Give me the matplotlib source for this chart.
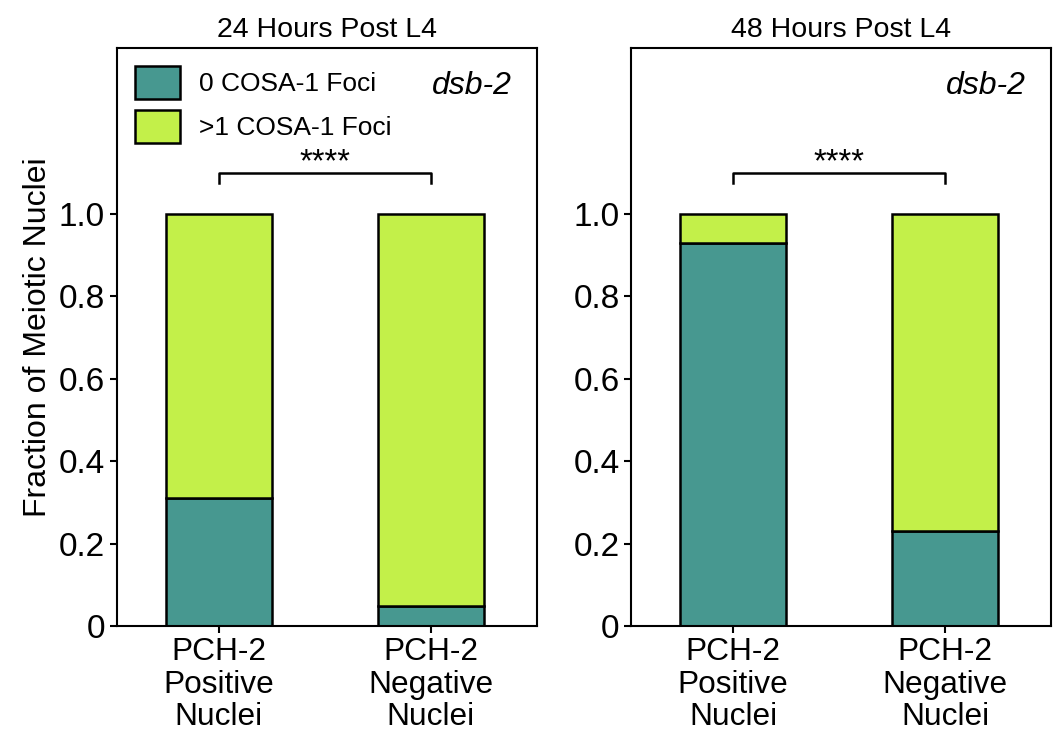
import matplotlib
matplotlib.use('Agg')
import matplotlib.pyplot as plt
import numpy as np

plt.rcParams['font.family'] = ['Liberation Sans', 'DejaVu Sans']

categories = ['PCH-2\nPositive\nNuclei', 'PCH-2\nNegative\nNuclei']
titles = ['24 Hours Post L4', '48 Hours Post L4']
zero_foci = [[0.31, 0.05], [0.93, 0.23]]
series_labels = ['0 COSA-1 Foci', '>1 COSA-1 Foci']
colors = ['#479890', '#c3f049']


def fmt(v, pos):
    return '0' if v == 0 else '%.1f' % v


fig, axes = plt.subplots(1, 2, figsize=(10.62, 7.35), dpi=100)
fig.subplots_adjust(left=0.11, right=0.99, top=0.935, bottom=0.148, wspace=0.225)

x = np.arange(len(categories))
for i, ax in enumerate(axes):
    low = np.array(zero_foci[i])
    high = 1 - low
    ax.bar(x, low, width=0.5, color=colors[0], edgecolor='black', linewidth=1.8,
           label=series_labels[0])
    ax.bar(x, high, bottom=low, width=0.5, color=colors[1], edgecolor='black',
           linewidth=1.8, label=series_labels[1])
    ax.set_xlim(-0.48, 1.5)
    ax.set_ylim(0, 1.403)
    ax.set_yticks([0, 0.2, 0.4, 0.6, 0.8, 1.0])
    ax.yaxis.set_major_formatter(plt.FuncFormatter(fmt))
    ax.set_xticks(x)
    ax.set_xticklabels(categories, fontsize=22.8, linespacing=1.1)
    ax.tick_params(axis='y', labelsize=24, width=1.5, length=5)
    ax.tick_params(axis='x', width=1.5, length=5, pad=3)
    for s in ax.spines.values():
        s.set_linewidth(1.5)
    ax.set_title(titles[i], fontsize=20.5, pad=8)
    ax.text(0.94, 0.96, 'dsb-2', transform=ax.transAxes, ha='right', va='top',
            fontsize=23, style='italic')
    # significance bracket
    ax.plot([0, 0, 1, 1], [1.075, 1.10, 1.10, 1.075], color='black', lw=1.8)
    ax.text(0.5, 1.104, '****', ha='center', va='baseline', fontsize=23.5)

axes[0].set_ylabel('Fraction of Meiotic Nuclei', fontsize=23)
axes[0].legend(loc='upper left', fontsize=19, frameon=False, handlelength=1.7,
               handleheight=1.55, handletextpad=0.7, borderaxespad=0.3,
               labelspacing=0.4)

plt.savefig('out.png', dpi=100)
